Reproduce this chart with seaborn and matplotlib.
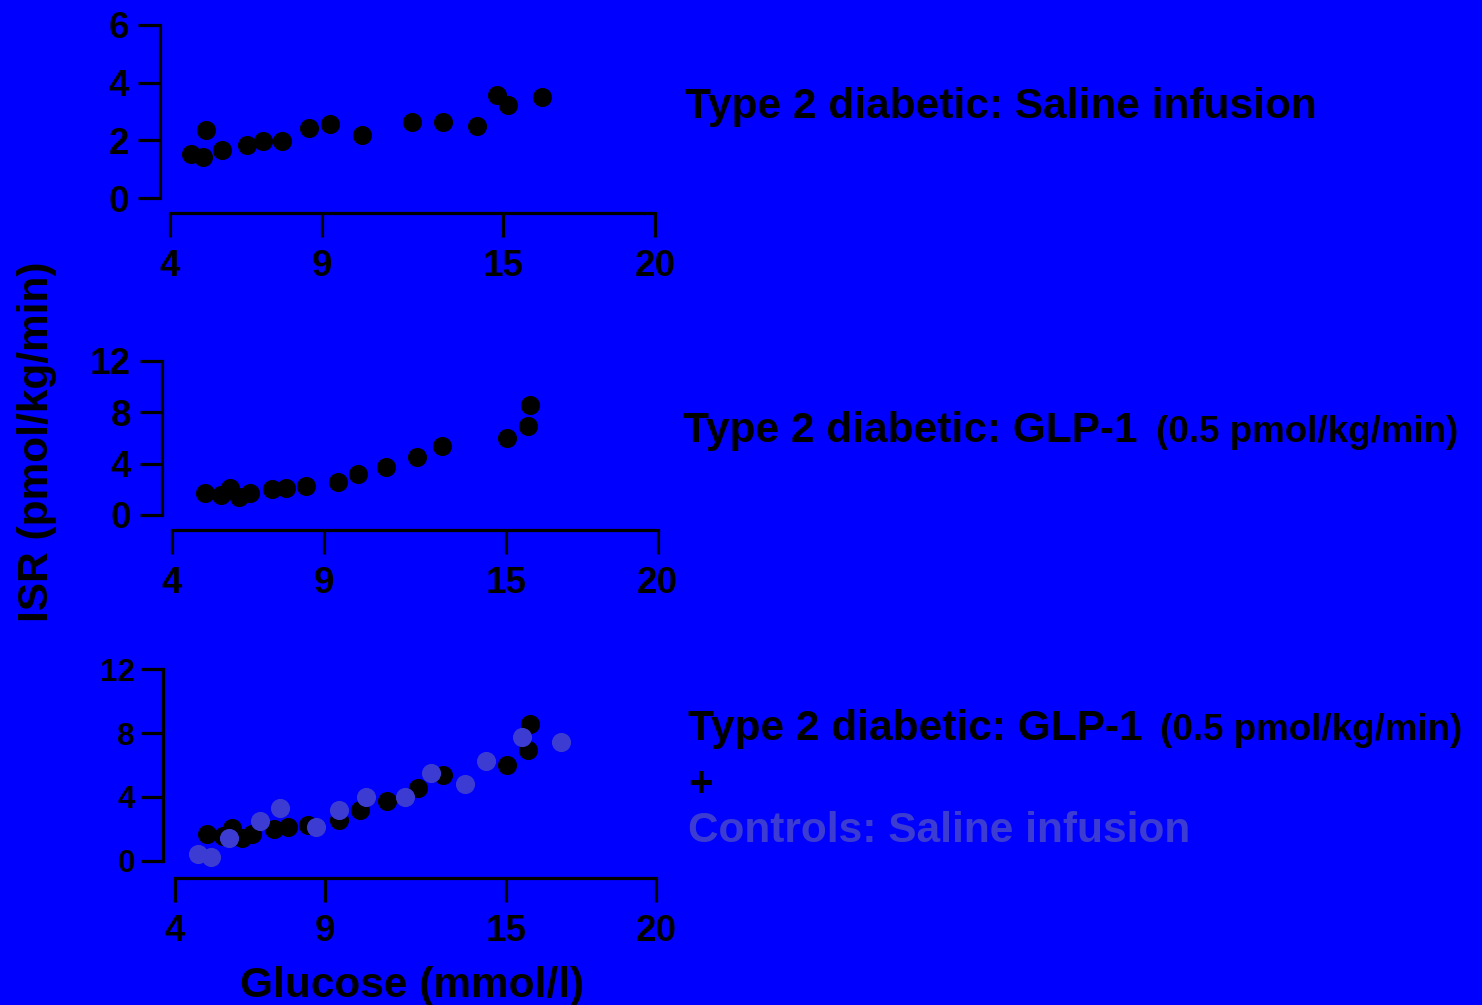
import matplotlib
matplotlib.use("Agg")
import matplotlib.pyplot as plt
import seaborn as sns
import pandas as pd

# Type 2 diabetic patients, saline infusion
sal_glucose = [4.68, 5.09, 5.19, 5.70, 6.55, 7.08, 7.68, 8.60, 9.27, 10.34, 11.98, 13.00, 14.12, 14.80, 15.14, 16.28]
sal_isr = [1.52, 1.42, 2.37, 1.66, 1.84, 1.97, 1.97, 2.44, 2.56, 2.17, 2.63, 2.63, 2.49, 3.56, 3.23, 3.49]

# Type 2 diabetic patients, GLP-1 infusion (0.5 pmol/kg/min)
glp_glucose = [5.08, 5.61, 5.90, 6.22, 6.57, 7.30, 7.76, 8.43, 9.46, 10.14, 11.04, 12.07, 12.90, 15.05, 15.74, 15.79]
glp_isr = [1.69, 1.56, 2.08, 1.43, 1.69, 2.00, 2.13, 2.26, 2.55, 3.20, 3.74, 4.55, 5.35, 6.03, 6.96, 8.57]

# Healthy controls, saline infusion
ctl_glucose = [4.78, 5.21, 5.79, 6.81, 7.50, 8.70, 9.44, 10.34, 11.65, 12.50, 13.64, 14.32, 15.52, 16.82]
ctl_isr = [0.40, 0.25, 1.44, 2.51, 3.32, 2.13, 3.18, 4.01, 4.01, 5.48, 4.81, 6.27, 7.76, 7.46]

x_ticks = [4, 9, 15, 20]
y_ticks_top = [0, 2, 4, 6]
y_ticks_low = [0, 4, 8, 12]

BG = "#0000FF"
DARK = "#000000"
LIGHT = "#3c3cd2"

sns.set_style("ticks")
plt.rcParams["font.family"] = ["Liberation Sans", "DejaVu Sans"]
plt.rcParams["font.weight"] = "bold"

W, H = 1482, 1005
fig = plt.figure(figsize=(W / 100, H / 100), dpi=100)
fig.patch.set_facecolor(BG)


def px_axes(x0, y0, x1, y1):
    return fig.add_axes([x0 / W, 1 - y1 / H, (x1 - x0) / W, (y1 - y0) / H])


def style_axes(ax, yticks, ylab_size, left_off, bottom_off, ylab_pad):
    ax.set_facecolor("none")
    ax.set_xlim(4, 20)
    ax.set_ylim(yticks[0], yticks[-1])
    ax.set_xticks(x_ticks)
    ax.set_yticks(yticks)
    ax.set_xlabel("")
    ax.set_ylabel("")
    for side in ("top", "right"):
        ax.spines[side].set_visible(False)
    ax.spines["left"].set_position(("outward", left_off))
    ax.spines["bottom"].set_position(("outward", bottom_off))
    for side in ("left", "bottom"):
        ax.spines[side].set_linewidth(2.3)
        ax.spines[side].set_color(DARK)
    ax.tick_params(axis="x", length=17, width=2.3, color=DARK, pad=9,
                   labelsize=26.5, labelcolor=DARK)
    ax.tick_params(axis="y", length=16, width=2.3, color=DARK, pad=ylab_pad,
                   labelsize=ylab_size, labelcolor=DARK)
    for lab in ax.get_xticklabels() + ax.get_yticklabels():
        lab.set_fontweight("bold")


def dots(ax, xs, ys, color):
    df = pd.DataFrame({"glucose": xs, "isr": ys})
    sns.scatterplot(data=df, x="glucose", y="isr", color=color, s=190,
                    linewidth=0, alpha=1, ax=ax, clip_on=False, zorder=3)


# Panel 1: saline
ax1 = px_axes(170, 25, 655, 198)
dots(ax1, sal_glucose, sal_isr, DARK)
style_axes(ax1, y_ticks_top, 26.5, 7.2, 10.8, 6.5)

# Panel 2: GLP-1
ax2 = px_axes(172, 361, 657.5, 515)
dots(ax2, glp_glucose, glp_isr, DARK)
style_axes(ax2, y_ticks_low, 26.5, 7.2, 10.8, 6.5)

# Panel 3: GLP-1 together with controls
ax3 = px_axes(175, 669.3, 656.4, 860.7)
dots(ax3, glp_glucose, glp_isr, DARK)
dots(ax3, ctl_glucose, ctl_isr, LIGHT)
style_axes(ax3, y_ticks_low, 22.5, 8.3, 12.7, 4.5)

# Panel captions
def ftext(x, y, s, size, color=DARK, **kw):
    fig.text(x / W, 1 - y / H, s, fontsize=size, fontweight="bold",
             color=color, va="baseline", ha="left", **kw)

ftext(685, 118.3, "Type 2 diabetic: Saline infusion", 30.5)
ftext(683, 441.7, "Type 2 diabetic: GLP-1", 30.5)
ftext(1156, 441.7, "(0.5 pmol/kg/min)", 26.5)
ftext(688, 740, "Type 2 diabetic: GLP-1", 30.5)
ftext(1160, 740, "(0.5 pmol/kg/min)", 26.5)
ftext(688, 796, "+", 30.5)
ftext(688, 842, "Controls: Saline infusion", 30.5, color=LIGHT)

# Shared axis titles
fig.text(37 / W, 1 - 441.5 / H, "ISR (pmol/kg/min)", fontsize=30.5,
         fontweight="bold", color=DARK, rotation=90, ha="center", va="center")
fig.text(412 / W, 1 - 997 / H, "Glucose (mmol/l)", fontsize=30.5,
         fontweight="bold", color=DARK, ha="center", va="baseline")

fig.savefig("out.png", dpi=100, facecolor=BG)
